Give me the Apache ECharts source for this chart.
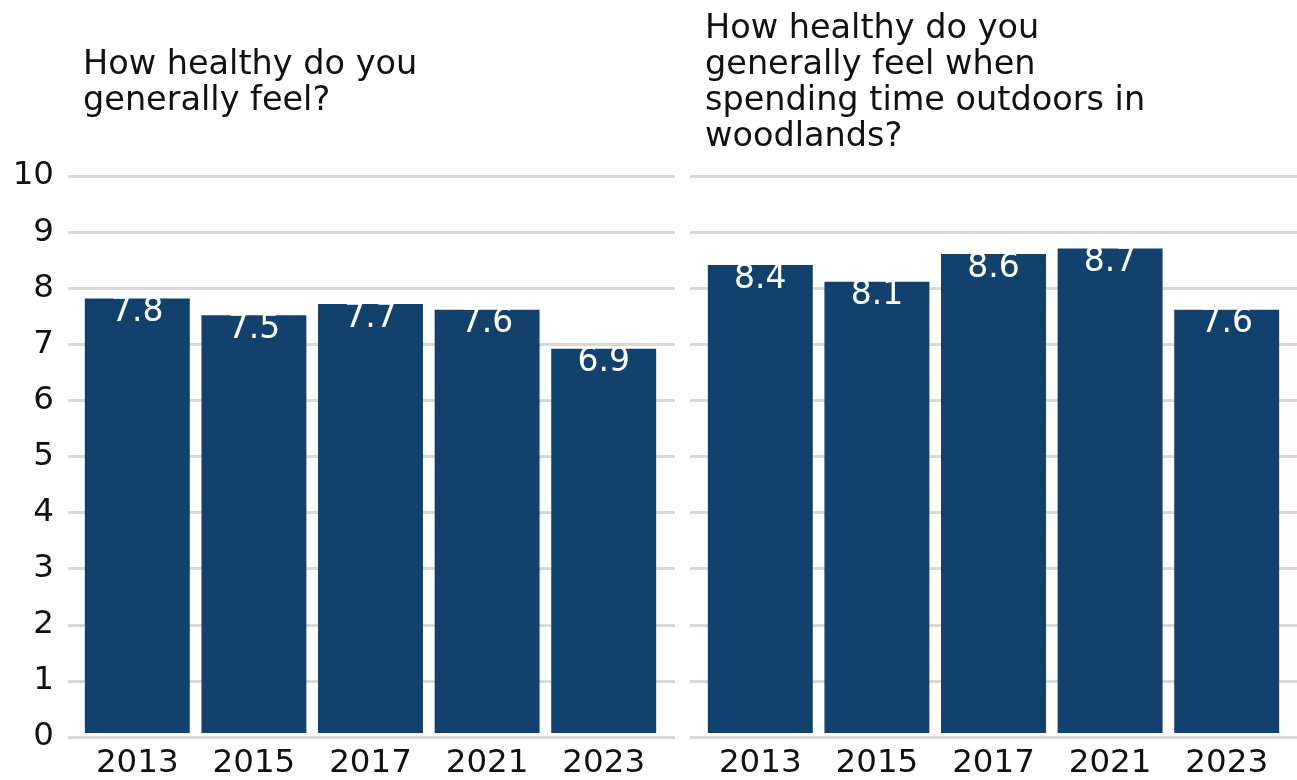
<!DOCTYPE html>
<html>
<head>
<meta charset="utf-8">
<script src="https://cdn.jsdelivr.net/npm/echarts@6/dist/echarts.min.js"></script>
<style>html,body{margin:0;padding:0;background:#fff}#c{width:1297px;height:780px}</style>
</head>
<body>
<div id="c"></div>
<script>
const years = ['2013', '2015', '2017', '2021', '2023'];
const generalHealth = [7.8, 7.5, 7.7, 7.6, 6.9];
const woodlandHealth = [8.4, 8.1, 8.6, 8.7, 7.6];
const yTicks = [0, 1, 2, 3, 4, 5, 6, 7, 8, 9, 10];
const titleLeft = 'How healthy do you\ngenerally feel?';
const titleRight = 'How healthy do you\ngenerally feel when\nspending time outdoors in\nwoodlands?';

const FONT = 'DejaVu Sans';
const BAR = '#13416d';
const GRIDC = '#d9d9d9';
const gTop = 176, gBottom = 43;

const chart = echarts.init(document.getElementById('c'), null, {renderer: 'canvas'});

function bgY(gi, showLabels) {
  return {
    type: 'value', gridIndex: gi, min: yTicks[0], max: yTicks[yTicks.length - 1], interval: 1,
    axisLine: {show: false}, axisTick: {show: false},
    axisLabel: {show: showLabels, fontFamily: FONT, fontSize: 32.5, color: '#111', margin: 14},
    splitLine: {show: true, lineStyle: {color: GRIDC, width: 3}}
  };
}
function hiddenY(gi) {
  return {type: 'value', gridIndex: gi, min: 0, max: 10, show: false, splitLine: {show: false}};
}
function catX(gi) {
  return {
    type: 'category', gridIndex: gi, data: years,
    axisLine: {show: false}, axisTick: {show: false},
    axisLabel: {fontFamily: FONT, fontSize: 32.5, color: '#111', margin: 14}
  };
}
function hiddenX(gi) {
  return {type: 'value', gridIndex: gi, min: 0, max: 1, show: false, splitLine: {show: false}};
}
function barSeries(xi, data) {
  return {
    type: 'bar', xAxisIndex: xi, yAxisIndex: xi, data: data,
    barCategoryGap: '10%',
    itemStyle: {color: BAR},
    label: {
      show: true, position: 'insideTop', distance: 2,
      fontFamily: FONT, fontSize: 33, color: '#fff', lineHeight: 24,
      formatter: p => p.value.toFixed(1)
    },
    silent: true
  };
}

chart.setOption({
  animation: false,
  backgroundColor: '#fff',
  title: [
    {text: titleLeft, left: 78, top: 42, textStyle: {fontFamily: FONT, fontSize: 33.5, fontWeight: 'normal', color: '#111', lineHeight: 36}},
    {text: titleRight, left: 700, top: 6, textStyle: {fontFamily: FONT, fontSize: 33.5, fontWeight: 'normal', color: '#111', lineHeight: 36}}
  ],
  grid: [
    {left: 68, width: 607, top: gTop, bottom: gBottom},
    {left: 79, width: 583, top: gTop, bottom: gBottom + 1},
    {left: 690, width: 607, top: gTop, bottom: gBottom},
    {left: 702, width: 583, top: gTop, bottom: gBottom + 1}
  ],
  xAxis: [hiddenX(0), catX(1), hiddenX(2), catX(3)],
  yAxis: [bgY(0, true), hiddenY(1), bgY(2, false), hiddenY(3)],
  series: [
    barSeries(1, generalHealth),
    barSeries(3, woodlandHealth)
  ]
});
</script>
</body>
</html>
